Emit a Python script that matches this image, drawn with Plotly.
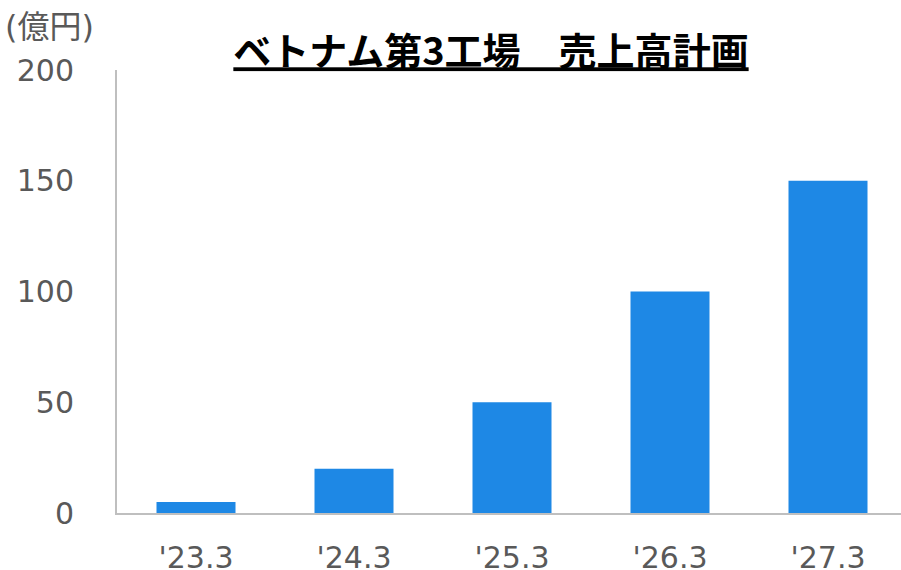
import plotly.graph_objects as go

categories = ["'23.3", "'24.3", "'25.3", "'26.3", "'27.3"]
sales = [5, 20, 50, 100, 150]
y_ticks = [0, 50, 100, 150, 200]

W, H = 901, 570
L, R, T, B = 117, 0, 70, 57
plot_w = W - L - R
cat_px = 158.0

fig = go.Figure()
fig.add_trace(go.Bar(
    x=categories, y=sales, width=0.5,
    marker=dict(color="#1E88E5", line=dict(width=0)),
    hoverinfo="skip",
))

y_font = dict(family="DejaVu Sans, Verdana, sans-serif", size=30, color="#595959")
x_font = dict(family="DejaVu Sans, Verdana, sans-serif", size=30, color="#595959")

fig.update_layout(
    width=W, height=H,
    margin=dict(l=L, r=R, t=T, b=B, pad=0, autoexpand=False),
    paper_bgcolor="white", plot_bgcolor="white",
    showlegend=False,
    title=dict(
        text="<b>ベトナム第3工場　売上高計画</b>",
        font=dict(family="Noto Sans CJK JP", size=38, color="black", lineposition="under"),
        x=491 / W, xanchor="center", xref="container",
        y=1 - 52 / H, yanchor="middle", yref="container",
        automargin=False,
    ),
    xaxis=dict(
        type="category", automargin=False,
        range=[-0.5, -0.5 + plot_w / cat_px],
        showgrid=False, zeroline=False,
        showline=True, linecolor="#BFBFBF", linewidth=2,
        ticks="", tickfont=x_font, ticklabelstandoff=17,
    ),
    yaxis=dict(
        range=[0, 200], tickvals=y_ticks, automargin=False,
        showgrid=False, zeroline=False,
        showline=True, linecolor="#BFBFBF", linewidth=2,
        ticks="", tickfont=y_font, ticklabelstandoff=35,
    ),
    annotations=[dict(
        text="(億円)", xref="paper", yref="paper",
        x=(3 - L) / plot_w, xanchor="left",
        y=(H - 27 - B) / (H - T - B), yanchor="middle",
        showarrow=False,
        font=dict(family="DejaVu Sans, Noto Sans CJK JP", size=32, color="#595959"),
    )],
)

fig.write_html("out.html")
